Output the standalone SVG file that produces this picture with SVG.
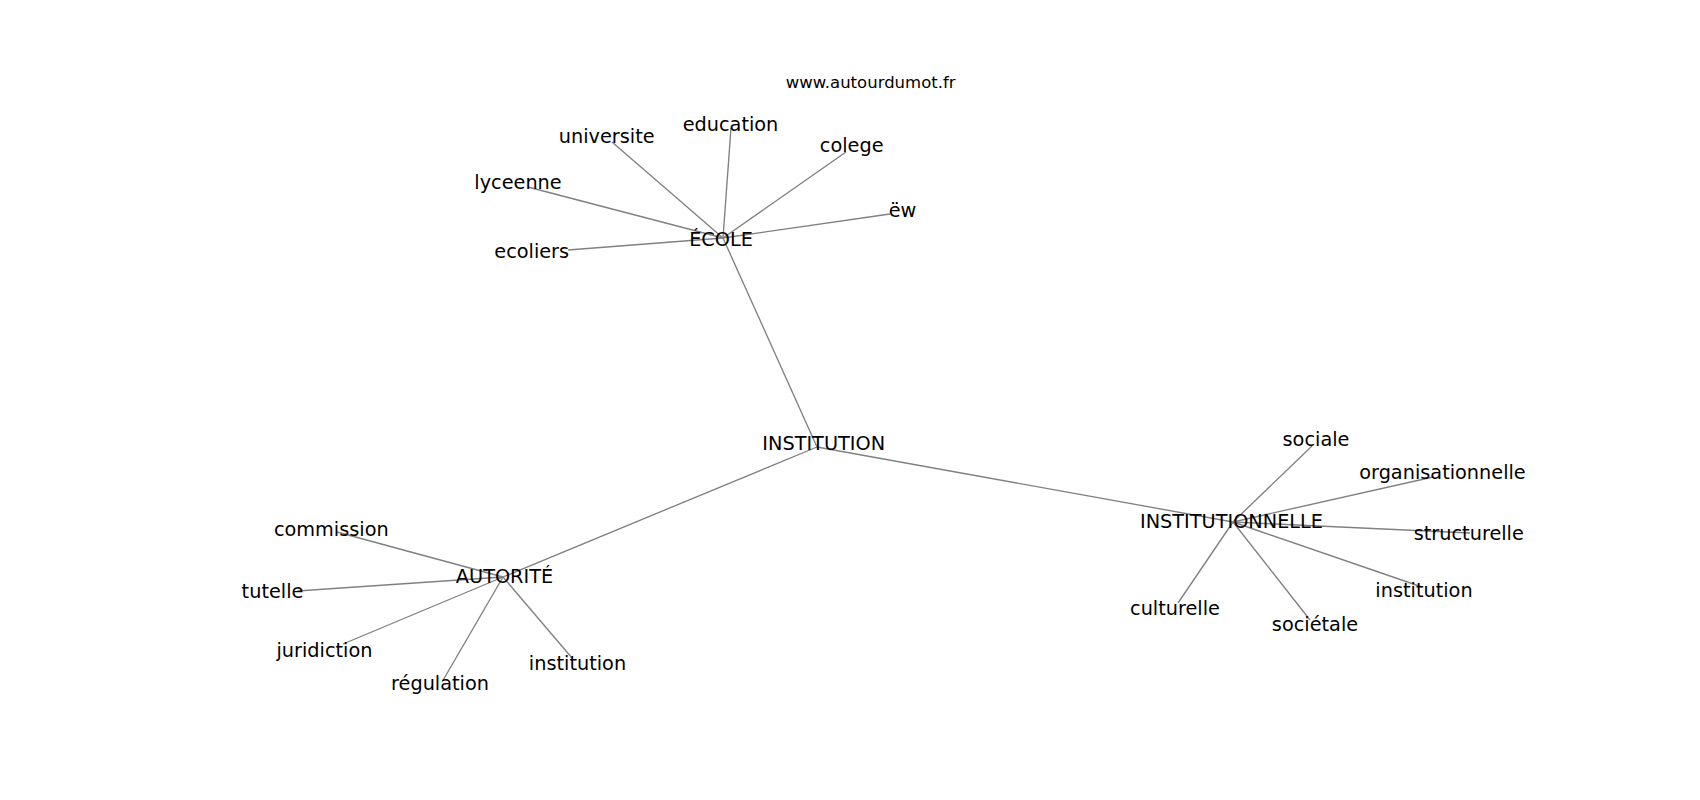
<svg xmlns="http://www.w3.org/2000/svg" width="1700" height="800" viewBox="0 0 1700 800">
<style>
.e{stroke:#808080;stroke-width:1.35;fill:none}
text{font-family:"DejaVu Sans",sans-serif;fill:#000;text-anchor:middle}
.n{font-size:19.3px}
.u{font-size:16.5px}
</style>
<rect width="1700" height="800" fill="#fff"/>
<g id="connectors">
<line class="e" x1="817" y1="447" x2="723" y2="238"/>
<line class="e" x1="817" y1="447" x2="503" y2="577"/>
<line class="e" x1="817" y1="447" x2="1233" y2="522"/>
<line class="e" x1="723" y1="238" x2="612" y2="142"/>
<line class="e" x1="723" y1="238" x2="731" y2="128"/>
<line class="e" x1="723" y1="238" x2="846" y2="152"/>
<line class="e" x1="723" y1="238" x2="890" y2="214"/>
<line class="e" x1="723" y1="238" x2="528" y2="187"/>
<line class="e" x1="723" y1="238" x2="568" y2="250"/>
<line class="e" x1="503" y1="577" x2="337" y2="532"/>
<line class="e" x1="503" y1="577" x2="297" y2="591"/>
<line class="e" x1="503" y1="577" x2="343" y2="644"/>
<line class="e" x1="503" y1="577" x2="442" y2="682"/>
<line class="e" x1="503" y1="577" x2="572" y2="658"/>
<line class="e" x1="1233" y1="522" x2="1312" y2="446"/>
<line class="e" x1="1233" y1="522" x2="1433" y2="477"/>
<line class="e" x1="1233" y1="522" x2="1470" y2="533"/>
<line class="e" x1="1233" y1="522" x2="1422" y2="587"/>
<line class="e" x1="1233" y1="522" x2="1178" y2="603"/>
<line class="e" x1="1233" y1="522" x2="1310" y2="620"/>
</g>
<text id="url" class="u" x="870.7" y="88.3">www.autourdumot.fr</text>
<g id="institution"><text class="n" x="823.7" y="450">INSTITUTION</text></g>
<g id="ecole"><text class="n" x="721" y="245.5">ÉCOLE</text></g>
<g id="universite"><text class="n" x="606.7" y="142.7">universite</text></g>
<g id="education"><text class="n" x="730.5" y="130.7">education</text></g>
<g id="colege"><text class="n" x="851.7" y="151.7">colege</text></g>
<g id="ew"><text class="n" x="902.5" y="217.3">ëw</text></g>
<g id="lyceenne"><text class="n" x="518" y="189.3">lyceenne</text></g>
<g id="ecoliers"><text class="n" x="531.7" y="258.3">ecoliers</text></g>
<g id="autorite"><text class="n" x="504.5" y="582.7">AUTORITÉ</text></g>
<g id="commission"><text class="n" x="331.3" y="535.7">commission</text></g>
<g id="tutelle"><text class="n" x="272.5" y="598.3">tutelle</text></g>
<g id="juridiction"><text class="n" x="324.5" y="657.3">juridiction</text></g>
<g id="regulation"><text class="n" x="440" y="690">régulation</text></g>
<g id="institution-a"><text class="n" x="577.5" y="670">institution</text></g>
<g id="institutionnelle"><text class="n" x="1231.5" y="528.3">INSTITUTIONNELLE</text></g>
<g id="sociale"><text class="n" x="1316" y="446">sociale</text></g>
<g id="organisationnelle"><text class="n" x="1442.5" y="479.3">organisationnelle</text></g>
<g id="structurelle"><text class="n" x="1468.8" y="540">structurelle</text></g>
<g id="institution-i"><text class="n" x="1424" y="596.7">institution</text></g>
<g id="culturelle"><text class="n" x="1175" y="615">culturelle</text></g>
<g id="societale"><text class="n" x="1315" y="631">sociétale</text></g>
</svg>
